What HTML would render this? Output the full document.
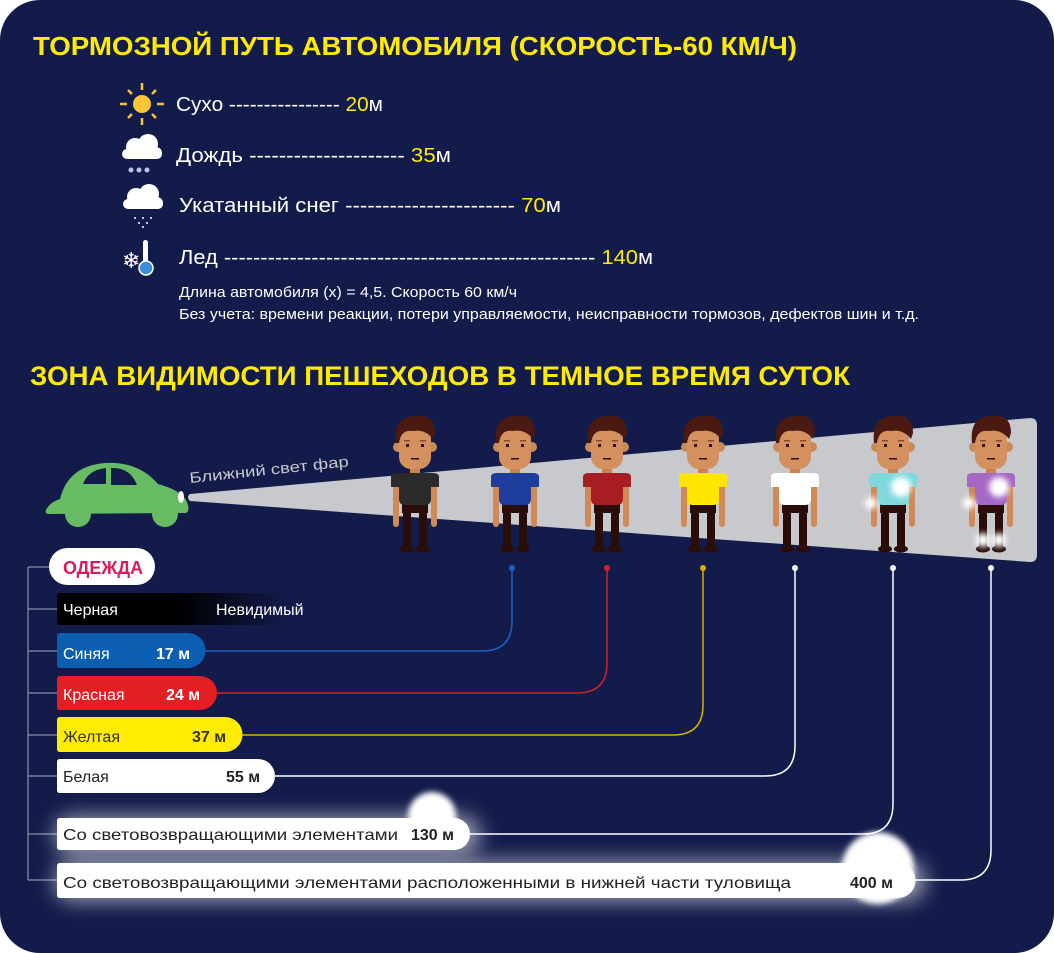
<!DOCTYPE html>
<html><head><meta charset="utf-8"><style>
html,body{margin:0;padding:0;background:#fff;}
svg{display:block;}
text{font-family:"Liberation Sans",sans-serif;}
</style></head><body>
<svg width="1054" height="953" viewBox="0 0 1054 953" xmlns="http://www.w3.org/2000/svg">
<defs>
<filter id="glow" x="-50%" y="-100%" width="200%" height="300%"><feGaussianBlur stdDeviation="10"/></filter>
<filter id="g2" x="-100%" y="-100%" width="300%" height="300%"><feGaussianBlur stdDeviation="3"/></filter>
<linearGradient id="blk" x1="0" x2="1"><stop offset="0" stop-color="#000"/><stop offset="0.45" stop-color="#000"/><stop offset="0.85" stop-color="#131b4b"/></linearGradient>
<g id="p">
<rect x="-22" y="66" width="6" height="46" rx="3" fill="#d08a58"/>
<rect x="16" y="66" width="6" height="46" rx="3" fill="#d08a58"/>
<rect x="-13" y="84" width="26" height="14" fill="#2a0c08"/>
<rect x="-12" y="90" width="8" height="44" fill="#2a0c08"/>
<rect x="4" y="90" width="8" height="44" fill="#2a0c08"/>
<ellipse cx="-8" cy="134" rx="7" ry="3.5" fill="#2a0c08"/>
<ellipse cx="8" cy="134" rx="7" ry="3.5" fill="#2a0c08"/>
<rect x="-5" y="48" width="10" height="12" fill="#c9844f"/>
<circle cx="-17" cy="32" r="5" fill="#c98a5a"/><circle cx="17" cy="32" r="5" fill="#c98a5a"/>
<rect x="-16" y="12" width="32" height="42" rx="12" fill="#d4915f"/>
<path d="M-19 28 Q-22 2 0 1 Q20 -2 20 18 L18 24 Q10 14 -2 16 Q-14 14 -16 28 Z" fill="#4a1a12"/>
<rect x="-9" y="29" width="3" height="3" fill="#2a0c08"/><rect x="6" y="29" width="3" height="3" fill="#2a0c08"/>
<rect x="-11" y="25" width="6" height="1.5" fill="#8a4a2a"/><rect x="5" y="25" width="6" height="1.5" fill="#8a4a2a"/>
<rect x="-4" y="43" width="8" height="1.5" fill="#2a0c08"/>
</g>
<path id="shirt" d="M-24 62 Q-24 58 -18 58 L18 58 Q24 58 24 62 L24 72 L16 72 L16 84 Q16 90 10 90 L-10 90 Q-16 90 -16 84 L-16 72 L-24 72 Z"/>
</defs>
<rect x="0" y="0" width="1054" height="953" rx="40" fill="#131b4b"/>

<text x="33" y="55" font-size="26" font-weight="bold" fill="#ffeb00" textLength="764" lengthAdjust="spacingAndGlyphs">ТОРМОЗНОЙ ПУТЬ АВТОМОБИЛЯ (СКОРОСТЬ-60 КМ/Ч)</text>

<g transform="translate(142,104)" stroke="#f8c43a" stroke-width="2.5">
<line x1="0" y1="-21" x2="0" y2="-14"/><line x1="0" y1="14" x2="0" y2="21"/><line x1="-22" y1="0" x2="-15" y2="0"/><line x1="15" y1="0" x2="22" y2="0"/>
<line x1="-14" y1="-14" x2="-10" y2="-10"/><line x1="10" y1="10" x2="14" y2="14"/><line x1="-14" y1="14" x2="-10" y2="10"/><line x1="10" y1="-10" x2="14" y2="-14"/>
<circle r="9" fill="#f8c43a" stroke="none"/></g>
<g fill="#fff"><circle cx="135" cy="147" r="9"/><circle cx="148" cy="144" r="10"/><circle cx="156" cy="153" r="6"/><rect x="122" y="149" width="40" height="10" rx="5"/></g>
<g fill="#b9c4e6"><circle cx="131" cy="170" r="2.5"/><circle cx="139" cy="170" r="2.5"/><circle cx="147" cy="170" r="2.5"/></g>
<g fill="#fff"><circle cx="136" cy="197" r="9"/><circle cx="149" cy="194" r="10"/><circle cx="157" cy="203" r="6"/><rect x="123" y="199" width="40" height="10" rx="5"/>
<circle cx="135" cy="218" r="1"/><circle cx="143" cy="218" r="1"/><circle cx="151" cy="218" r="1"/><circle cx="139" cy="223" r="1"/><circle cx="147" cy="223" r="1"/><circle cx="143" cy="227" r="1"/></g>
<text x="122" y="268" font-size="22" fill="#fff">❄</text>
<rect x="143" y="240" width="5" height="24" rx="2.5" fill="#fff"/><circle cx="146" cy="268" r="7" fill="#3b8fd6" stroke="#fff" stroke-width="1.5"/>

<g font-size="20" fill="#fff">
<text x="176" y="111" textLength="207" lengthAdjust="spacingAndGlyphs">Сухо ---------------- <tspan fill="#ffeb00">20</tspan>м</text>
<text x="176" y="162" textLength="275" lengthAdjust="spacingAndGlyphs">Дождь --------------------- <tspan fill="#ffeb00">35</tspan>м</text>
<text x="179" y="212" textLength="382" lengthAdjust="spacingAndGlyphs">Укатанный снег ----------------------- <tspan fill="#ffeb00">70</tspan>м</text>
<text x="179" y="264" textLength="474" lengthAdjust="spacingAndGlyphs">Лед --------------------------------------------------- <tspan fill="#ffeb00">140</tspan>м</text>
</g>
<text x="179" y="297" font-size="15" fill="#fff" textLength="338" lengthAdjust="spacingAndGlyphs">Длина автомобиля (х) = 4,5. Скорость 60 км/ч</text>
<text x="179" y="319" font-size="15" fill="#fff" textLength="740" lengthAdjust="spacingAndGlyphs">Без учета: времени реакции, потери управляемости, неисправности тормозов, дефектов шин и т.д.</text>

<text x="30" y="385" font-size="27" font-weight="bold" fill="#ffeb00" textLength="820" lengthAdjust="spacingAndGlyphs">ЗОНА ВИДИМОСТИ ПЕШЕХОДОВ В ТЕМНОЕ ВРЕМЯ СУТОК</text>

<path d="M190 494 L1030 418 Q1037 418 1037 425 L1037 555 Q1037 562 1030 562 L190 501 Q186 497 190 494 Z" fill="#c8c9cc"/>
<text x="190" y="483" font-size="15" fill="#c8c9cc" transform="rotate(-6 190 483)" textLength="160" lengthAdjust="spacingAndGlyphs">Ближний свет фар</text>
<!-- car -->
<g fill="#67bb62">
<path d="M46 510 Q50 502 60 499 Q68 466 105 463 Q138 461 158 484 Q180 490 186 500 Q191 510 186 513 L50 514 Q44 514 46 510 Z"/>
<circle cx="78" cy="514" r="13"/><circle cx="165" cy="514" r="13"/>
</g>
<path d="M83 484 Q88 470 106 468 L106 484 Z M111 468 Q130 467 137 485 L111 485 Z" fill="#131b4b"/>
<ellipse cx="181" cy="497" rx="3" ry="6" fill="#fff"/>

<g transform="translate(415,415)"><use href="#p"/><use href="#shirt" fill="#2b2b2b"/></g>
<g transform="translate(515,415)"><use href="#p"/><use href="#shirt" fill="#1c3d9c"/></g>
<g transform="translate(607,415)"><use href="#p"/><use href="#shirt" fill="#a61e22"/></g>
<g transform="translate(703,415)"><use href="#p"/><use href="#shirt" fill="#ffe600"/></g>
<g transform="translate(795,415)"><use href="#p"/><use href="#shirt" fill="#ffffff"/></g>
<g transform="translate(893,415)"><use href="#p"/><use href="#shirt" fill="#7fd8dc"/><circle cx="8" cy="72" r="10" fill="#fff" filter="url(#g2)"/><circle cx="-22" cy="88" r="6" fill="#fff" filter="url(#g2)"/></g>
<g transform="translate(991,415)"><use href="#p"/><use href="#shirt" fill="#a567c4"/><circle cx="8" cy="72" r="10" fill="#fff" filter="url(#g2)"/><circle cx="-22" cy="88" r="6" fill="#fff" filter="url(#g2)"/><circle cx="-8" cy="125" r="7" fill="#fff" filter="url(#g2)"/><circle cx="8" cy="125" r="7" fill="#fff" filter="url(#g2)"/></g>

<g fill="none" stroke-width="1.5">
<path d="M205 651 L482 651 Q512 651 512 621 L512 568" stroke="#1f5fc4"/>
<path d="M217 693 L577 693 Q607 693 607 663 L607 568" stroke="#d3222a"/>
<path d="M242 735 L673 735 Q703 735 703 705 L703 568" stroke="#d8b300"/>
<path d="M275 776 L765 776 Q795 776 795 746 L795 568" stroke="#fff"/>
<path d="M470 834 L863 834 Q893 834 893 804 L893 568" stroke="#fff"/>
<path d="M915 880 L961 880 Q991 880 991 850 L991 568" stroke="#fff"/>
</g>
<circle cx="512" cy="568" r="3" fill="#1f5fc4"/><circle cx="607" cy="568" r="3" fill="#d3222a"/><circle cx="703" cy="568" r="3" fill="#d8b300"/>
<circle cx="795" cy="568" r="3" fill="#fff"/><circle cx="893" cy="568" r="3" fill="#fff"/><circle cx="991" cy="568" r="3" fill="#fff"/>

<g stroke="#8a8fa8" stroke-width="1.2" fill="none">
<path d="M28 567 L28 880 M28 567 L49 567 M28 609 L57 609 M28 651 L57 651 M28 693 L57 693 M28 735 L57 735 M28 776 L57 776 M28 834 L57 834 M28 880 L57 880"/>
</g>

<rect x="55" y="816" width="425" height="38" rx="18" fill="#fff" opacity="0.6" filter="url(#glow)"/>
<rect x="55" y="861" width="870" height="40" rx="18" fill="#fff" opacity="0.6" filter="url(#glow)"/>
<circle cx="432" cy="816" r="24" fill="#fff" filter="url(#g2)"/>
<circle cx="878" cy="868" r="36" fill="#fff" filter="url(#g2)"/>

<rect x="49" y="548" width="106" height="37" rx="18.5" fill="#fff"/>
<text x="63" y="574" font-size="18" font-weight="bold" fill="#d81b5c" textLength="80" lengthAdjust="spacingAndGlyphs">ОДЕЖДА</text>
<rect x="57" y="593" width="270" height="32" rx="3" fill="url(#blk)"/>
<text x="63" y="615" font-size="16" fill="#fff">Черная</text>
<text x="216" y="615" font-size="16" fill="#fff">Невидимый</text>

<path d="M57 636 Q57 633 60 633 L188 633 A17.5 17.5 0 0 1 188 668 L60 668 Q57 668 57 665 Z" fill="#0c5fb0"/>
<text x="63" y="659" font-size="16" fill="#fff">Синяя</text><text x="156" y="659" font-size="16" font-weight="bold" fill="#fff">17 м</text>
<path d="M57 679 Q57 676 60 676 L200 676 A17 17 0 0 1 200 710 L60 710 Q57 710 57 707 Z" fill="#e31e24"/>
<text x="63" y="700" font-size="16" fill="#fff">Красная</text><text x="166" y="700" font-size="16" font-weight="bold" fill="#fff">24 м</text>
<path d="M57 720 Q57 717 60 717 L225 717 A17.5 17.5 0 0 1 225 752 L60 752 Q57 752 57 749 Z" fill="#ffec00"/>
<text x="63" y="742" font-size="16" fill="#333">Желтая</text><text x="192" y="742" font-size="16" font-weight="bold" fill="#333">37 м</text>
<path d="M57 762 Q57 759 60 759 L258 759 A17 17 0 0 1 258 793 L60 793 Q57 793 57 790 Z" fill="#fff"/>
<text x="63" y="782" font-size="16" fill="#222">Белая</text><text x="226" y="782" font-size="16" font-weight="bold" fill="#222">55 м</text>
<path d="M57 821 Q57 818 60 818 L454 818 A16 16 0 0 1 454 850 L60 850 Q57 850 57 847 Z" fill="#fff"/>
<text x="63" y="840" font-size="16" fill="#222" textLength="335" lengthAdjust="spacingAndGlyphs">Со световозвращающими элементами</text><text x="411" y="840" font-size="16" font-weight="bold" fill="#222">130 м</text>
<path d="M57 866 Q57 863 60 863 L898 863 A17.5 17.5 0 0 1 898 898 L60 898 Q57 898 57 895 Z" fill="#fff"/>
<text x="63" y="888" font-size="16" fill="#222" textLength="728" lengthAdjust="spacingAndGlyphs">Со световозвращающими элементами расположенными в нижней части туловища</text><text x="850" y="888" font-size="16" font-weight="bold" fill="#222">400 м</text>
</svg>
</body></html>
